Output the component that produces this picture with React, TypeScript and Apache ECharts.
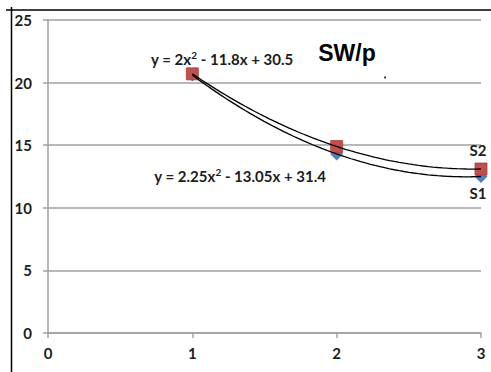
import { useEffect, useRef } from "react";
import * as echarts from "echarts";

// Measured points (x = 1..3)
const xValues = [1, 2, 3];
const s1Values = [20.6, 14.3, 12.5];
const s2Values = [20.7, 14.9, 13.1];

// Polynomial trendline coefficients [a, b, c] for y = a·x² + b·x + c
const s1Coef = [2.25, -13.05, 31.4];
const s2Coef = [2, -11.8, 30.5];

const s1Name = "S1";
const s2Name = "S2";
// Equation strings, with {s|2} marking the superscript exponent
const s1Equation = "y = 2.25x{s|2} - 13.05x + 31.4";
const s2Equation = "y = 2x{s|2} - 11.8x + 30.5";
const titleText = "SW/p";

const FONT = "Lato, 'Open Sans', sans-serif";
const TEXT_COLOR = "#1c1c1c";
const GRID_COLOR = "#a0a0a0";

// Sample a quadratic trendline over the range of the measured x values
function trendCurve(coef: number[], from: number, to: number, steps: number) {
  const pts: number[][] = [];
  for (let i = 0; i <= steps; i++) {
    const x = from + ((to - from) * i) / steps;
    pts.push([x, coef[0] * x * x + coef[1] * x + coef[2]]);
  }
  return pts;
}

const equationStyle = (text: string) => ({
  text,
  fontFamily: FONT,
  fontWeight: "bold",
  fontSize: 15,
  fill: TEXT_COLOR,
  align: "center",
  verticalAlign: "middle",
  rich: {
    s: {
      fontFamily: FONT,
      fontWeight: "bold",
      fontSize: 10,
      fill: TEXT_COLOR,
      verticalAlign: "top",
      lineHeight: 18,
      padding: [0, 0, 6, 0],
    },
  },
});

export default function App() {
  const ref = useRef<HTMLDivElement>(null);

  useEffect(() => {
    if (!ref.current) return;
    const chart = echarts.init(ref.current, undefined, { renderer: "svg" });
    const xMin = Math.min(...xValues);
    const xMax = Math.max(...xValues);

    const labelLast = (name: string, pos: "top" | "bottom", dist: number) => ({
      show: true,
      position: pos,
      distance: dist,
      offset: [-3, 0],
      formatter: (p: any) => (p.dataIndex === xValues.length - 1 ? name : ""),
      fontFamily: FONT,
      fontWeight: "bold",
      fontSize: 15,
      color: TEXT_COLOR,
      opacity: 1,
      textBorderWidth: 0,
    });

    chart.setOption({
      animation: false,
      backgroundColor: "#ffffff",
      grid: { left: 48, right: 10, top: 20, bottom: 39 },
      xAxis: {
        type: "value",
        min: 0,
        max: 3,
        interval: 1,
        axisLine: { show: true, lineStyle: { color: GRID_COLOR, width: 1.5 } },
        axisTick: { show: true, length: 5, lineStyle: { color: GRID_COLOR, width: 1.5 } },
        splitLine: { show: false },
        axisLabel: {
          margin: 12,
          fontFamily: FONT,
          fontWeight: "bold",
          fontSize: 15,
          color: TEXT_COLOR,
        },
      },
      yAxis: {
        type: "value",
        min: 0,
        max: 25,
        interval: 5,
        axisLine: { show: true, lineStyle: { color: GRID_COLOR, width: 1.5 } },
        axisTick: { show: true, length: 5, lineStyle: { color: GRID_COLOR, width: 1.5 } },
        splitLine: { show: true, lineStyle: { color: GRID_COLOR, width: 1.5 } },
        axisLabel: {
          margin: 16,
          fontFamily: FONT,
          fontWeight: "bold",
          fontSize: 15,
          color: TEXT_COLOR,
        },
      },
      series: [
        {
          name: s1Name,
          type: "scatter",
          symbol: "diamond",
          symbolSize: 13,
          itemStyle: { color: "#4f81bd", opacity: 1 },
          data: xValues.map((x, i) => [x, s1Values[i]]),
          label: labelLast(s1Name, "bottom", 2),
          z: 2,
        },
        {
          name: s2Name,
          type: "scatter",
          symbol: "rect",
          symbolSize: 12,
          itemStyle: { color: "#c0504d", borderColor: "#a9403d", borderWidth: 0.8, opacity: 1 },
          data: xValues.map((x, i) => [x, s2Values[i]]),
          label: labelLast(s2Name, "top", 5),
          z: 3,
        },
        {
          name: s1Name + " trend",
          type: "line",
          showSymbol: false,
          symbol: "none",
          lineStyle: { color: "#000000", width: 1.3 },
          data: trendCurve(s1Coef, xMin, xMax, 60),
          z: 5,
        },
        {
          name: s2Name + " trend",
          type: "line",
          showSymbol: false,
          symbol: "none",
          lineStyle: { color: "#000000", width: 1.3 },
          data: trendCurve(s2Coef, xMin, xMax, 60),
          z: 5,
        },
      ],
      graphic: [
        // outer frame lines
        { type: "line", shape: { x1: 6, y1: 10, x2: 491, y2: 10 }, style: { stroke: "#000", lineWidth: 1.5 }, z: 10 },
        { type: "line", shape: { x1: 11.5, y1: 7, x2: 11.5, y2: 372 }, style: { stroke: "#000", lineWidth: 1.5 }, z: 10 },
        { type: "text", x: 222, y: 59, style: equationStyle(s2Equation), z: 10 },
        { type: "text", x: 240, y: 176, style: equationStyle(s1Equation), z: 10 },
        {
          type: "text",
          x: 347,
          y: 53,
          style: {
            text: titleText,
            fontFamily: "'Liberation Sans', Arial, sans-serif",
            fontWeight: "bold",
            fontSize: 23,
            fill: "#000",
            align: "center",
            verticalAlign: "middle",
          },
          z: 10,
        },
        { type: "circle", shape: { cx: 385, cy: 77.5, r: 1 }, style: { fill: "#222" }, z: 10 },
      ],
    });

    return () => chart.dispose();
  }, []);

  return (
    <div
      ref={ref}
      style={{ position: "fixed", left: 0, top: 0, width: 491, height: 372 }}
    />
  );
}
